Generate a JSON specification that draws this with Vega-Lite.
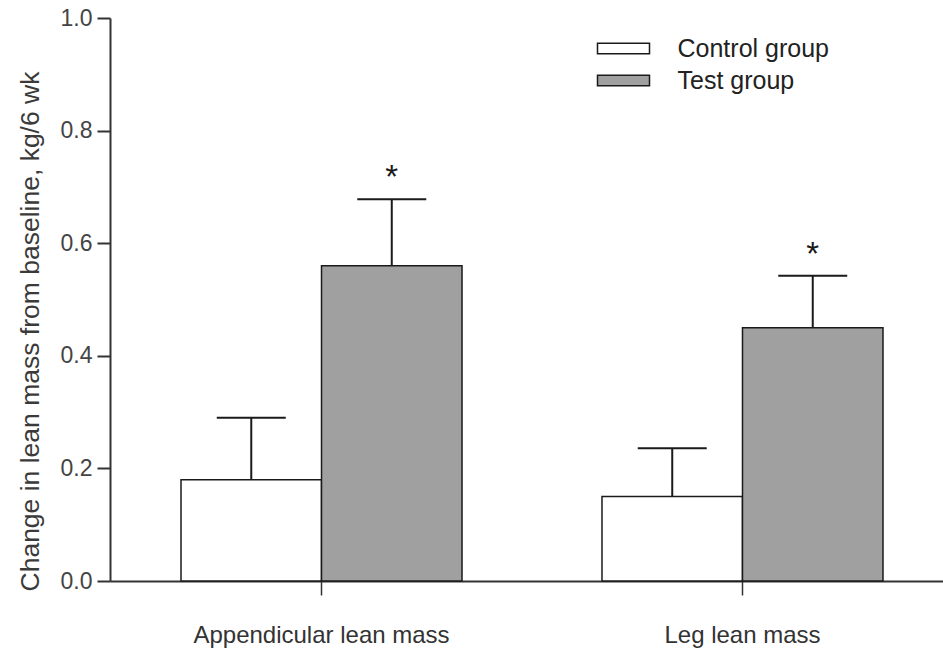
{
  "$schema": "https://vega.github.io/schema/vega-lite/v6.json",
  "width": 833,
  "height": 563,
  "autosize": {"type": "none"},
  "padding": {"left": 110, "top": 18, "right": 0, "bottom": 71},
  "background": "white",
  "config": {"view": {"stroke": null}, "font": "Liberation Sans"},
  "data": {
    "values": [
      {"measure": "Appendicular lean mass", "group": "Control group", "mean": 0.18, "upper": 0.29, "sig": ""},
      {"measure": "Appendicular lean mass", "group": "Test group", "mean": 0.56, "upper": 0.678, "sig": "*"},
      {"measure": "Leg lean mass", "group": "Control group", "mean": 0.15, "upper": 0.236, "sig": ""},
      {"measure": "Leg lean mass", "group": "Test group", "mean": 0.45, "upper": 0.542, "sig": "*"}
    ]
  },
  "encoding": {
    "x": {
      "field": "measure",
      "type": "nominal",
      "sort": null,
      "scale": {"type": "band", "paddingInner": 0.3325, "paddingOuter": 0.1556, "align": 0.542},
      "axis": {
        "title": null,
        "labelAngle": 0,
        "labelFontSize": 24,
        "labelColor": "#333",
        "labelPadding": 28,
        "labelLimit": 0,
        "tickSize": 14,
        "tickColor": "#333",
        "tickWidth": 1.5,
        "domainColor": "#333",
        "domainWidth": 2,
        "grid": false
      }
    },
    "xOffset": {"field": "group", "type": "nominal", "sort": ["Control group", "Test group"], "scale": {"paddingInner": 0, "paddingOuter": 0}}
  },
  "layer": [
    {
      "mark": {"type": "bar", "stroke": "#1a1a1a", "strokeWidth": 1.5},
      "encoding": {
        "y": {
          "field": "mean",
          "type": "quantitative",
          "scale": {"domain": [0, 1], "nice": false},
          "axis": {
            "title": "Change in lean mass from baseline, kg/6 wk",
            "titleFontSize": 26.5,
            "titleFontWeight": "normal",
            "titleColor": "#3a3a3a",
            "titlePadding": 16,
            "titleY": 313,
            "values": [0, 0.2, 0.4, 0.6, 0.8, 1.0],
            "format": ".1f",
            "labelFontSize": 23,
            "labelColor": "#444",
            "labelPadding": 5,
            "tickSize": 13,
            "tickColor": "#333",
            "tickWidth": 2,
            "domainColor": "#333",
            "domainWidth": 2,
            "grid": false
          }
        },
        "fill": {
          "field": "group",
          "type": "nominal",
          "scale": {"domain": ["Control group", "Test group"], "range": ["#ffffff", "#a0a0a0"]},
          "legend": {
            "title": null,
            "orient": "none",
            "legendX": 499.5,
            "legendY": 16.5,
            "symbolType": "M-2,-0.4H2V0.4H-2Z",
            "symbolSize": 676,
            "symbolStrokeColor": "#1a1a1a",
            "symbolStrokeWidth": 1.5,
            "labelFontSize": 25,
            "labelColor": "#222",
            "labelOffset": 40,
            "rowPadding": 5,
            "padding": 0
          }
        }
      }
    },
    {
      "mark": {"type": "rule", "stroke": "#1a1a1a", "strokeWidth": 2},
      "encoding": {
        "y": {"field": "mean", "type": "quantitative"},
        "y2": {"field": "upper"}
      }
    },
    {
      "mark": {"type": "tick", "color": "#1a1a1a", "thickness": 2, "size": 69, "orient": "horizontal", "opacity": 1},
      "encoding": {
        "y": {"field": "upper", "type": "quantitative"}
      }
    },
    {
      "mark": {"type": "text", "fontSize": 33, "baseline": "alphabetic", "dy": -11, "color": "#1a1a1a"},
      "encoding": {
        "y": {"field": "upper", "type": "quantitative"},
        "text": {"field": "sig"}
      }
    }
  ]
}
